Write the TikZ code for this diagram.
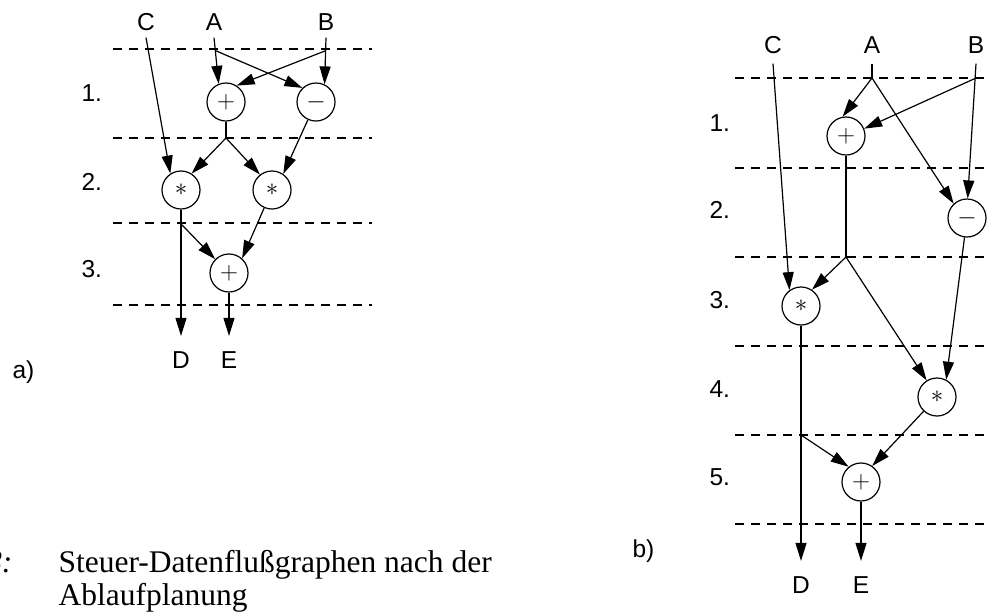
\documentclass[tikz,border=0pt]{standalone}
\usepackage{fontspec}
\setmainfont{Liberation Serif}
\newfontfamily\lsans{Liberation Sans}
\usetikzlibrary{arrows.meta}
\begin{document}
\begin{tikzpicture}[x=1pt,y=-1pt,
  line width=1.2pt,
  op/.style={circle,draw,line width=1.2pt,minimum size=38pt,inner sep=0pt,font=\fontsize{25}{25}\selectfont},
  inlbl/.style={font=\lsans\fontsize{24.5}{24.5}\selectfont,inner xsep=0pt,text height=17.5pt,text depth=0pt,anchor=base},
  rowlbl/.style={font=\lsans\fontsize{24.5}{24.5}\selectfont,inner sep=0pt,anchor=base west},
  arr/.style={-{Triangle[length=18pt,width=11pt]}},
  sep/.style={dash pattern=on 9pt off 7pt,line width=1.2pt},
  captxt/.style={font=\fontsize{31.5}{31.5}\selectfont,inner sep=0pt,anchor=base west}]
\useasboundingbox (0,0) rectangle (987,614);

% ---------------- a) ----------------
\foreach \y in {49,138,223,305} \draw[sep] (113,\y) -- (372,\y);
\node[rowlbl] (a1) at (81,101) {1.};
\node[rowlbl] (a2) at (81,190) {2.};
\node[rowlbl] (a3) at (81,277) {3.};
\node[rowlbl] (alab) at (12,378) {a)};

\node[inlbl,inner ysep=7pt] (aC) at (146,30) {C};
\node[inlbl,inner ysep=7pt] (aA) at (214,30) {A};
\node[inlbl,inner ysep=7pt] (aB) at (326,30) {B};
\node[inlbl,inner ysep=14pt] (aD) at (181,368) {D};
\node[inlbl,inner ysep=14pt] (aE) at (229,368) {E};

\node[op] (ap1) at (226,102) {$+$};
\node[op] (am) at (316,102) {$-$};
\node[op] (as1) at (181,190) {$\ast$};
\node[op] (as2) at (272,190) {$\ast$};
\node[op] (ap2) at (229,273) {$+$};

\draw[arr] (aA.south) -- (ap1.112) coordinate[pos=0.28] (ajA);
\draw[arr] (aB.south) -- (am.64) coordinate[pos=0.28] (ajB);
\draw[arr] (ajA) -- (am.134);
\draw[arr] (ajB) -- (ap1.57);
\draw[arr] (aC.south) -- (as1.123);
\draw (ap1) -- (226,138) coordinate (ajP);
\draw[arr] (ajP) -- (as1.57);
\draw[arr] (ajP) -- (as2.128);
\draw[arr] (am) -- (as2.55);
\draw[arr] (as1) -- (aD);
\path (as1.south) -- (aD.north) coordinate[pos=0.113] (ajS);
\draw[arr] (ajS) -- (ap2.135);
\draw[arr] (as2) -- (ap2.48);
\draw[arr] (ap2) -- (aE);

% caption
\node[captxt,anchor=base east] (cnum) at (13,572) {\itshape 8:};
\node[captxt] (c1) at (58,572) {Steuer-Datenflußgraphen nach der};
\node[captxt] (c2) at (58,605) {Ablaufplanung};

% ---------------- b) ----------------
\foreach \y in {78,168,257,346,435,524} \draw[sep] (735,\y) -- (987,\y);
\node[rowlbl] (b1) at (709,131) {1.};
\node[rowlbl] (b2) at (709,218) {2.};
\node[rowlbl] (b3) at (709,308) {3.};
\node[rowlbl] (b4) at (709,397) {4.};
\node[rowlbl] (b5) at (709,485) {5.};
\node[rowlbl] (blab) at (632,557) {b)};

\node[inlbl,inner ysep=10pt] (bC) at (773,53) {C};
\node[inlbl,inner ysep=10pt] (bA) at (872,53) {A};
\node[inlbl,inner ysep=10pt] (bB) at (976,53) {B};
\node[inlbl,inner ysep=14pt] (bD) at (801,593) {D};
\node[inlbl,inner ysep=14pt] (bE) at (861,593) {E};

\node[op] (bp1) at (846,136) {$+$};
\node[op] (bm) at (967,218) {$-$};
\node[op] (bs1) at (801,306) {$\ast$};
\node[op] (bs2) at (937,397) {$\ast$};
\node[op] (bp2) at (861,482) {$+$};

\draw (bA.south) -- (872,78) coordinate (bjA);
\draw[arr] (bjA) -- (bp1.100);
\draw[arr] (bjA) -- (bm.133);
\draw[arr] (bB.south) -- (bm.88) coordinate[pos=0.11] (bjB);
\draw[arr] (bjB) -- (bp1.22);
\draw[arr] (bC.south) -- (bs1.126);
\draw (bp1) -- (846,257) coordinate (bjP);
\draw[arr] (bjP) -- (bs1.56);
\draw[arr] (bjP) -- (bs2.122);
\draw[arr] (bm) -- (bs2.62);
\draw[arr] (bs1) -- (bD);
\path (bs1.south) -- (bD.north) coordinate[pos=0.465] (bjS);
\draw[arr] (bjS) -- (bp2.129);
\draw[arr] (bs2) -- (bp2.55);
\draw[arr] (bp2) -- (bE);
\end{tikzpicture}
\end{document}
